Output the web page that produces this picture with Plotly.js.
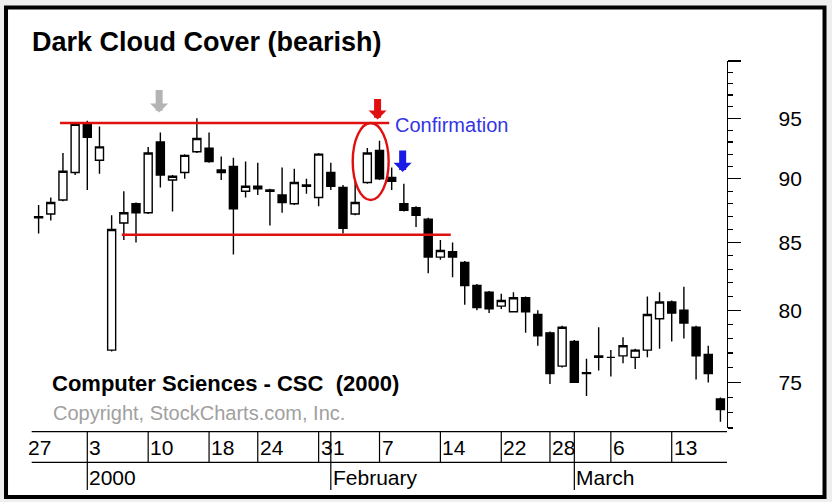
<!DOCTYPE html>
<html><head><meta charset="utf-8">
<script src="https://cdn.plot.ly/plotly-3.0.1.min.js"></script>
<style>html,body{margin:0;padding:0;background:#fff;} #chart{width:832px;height:502px;}</style>
</head><body><div id="chart"></div>
<script>
// Trading days (Dec 28 1999 .. Mar 17 2000)
const dates = ['1999-12-28','1999-12-29','1999-12-30','1999-12-31',
  '2000-01-03','2000-01-04','2000-01-05','2000-01-06','2000-01-07',
  '2000-01-10','2000-01-11','2000-01-12','2000-01-13','2000-01-14',
  '2000-01-18','2000-01-19','2000-01-20','2000-01-21',
  '2000-01-24','2000-01-25','2000-01-26','2000-01-27','2000-01-28',
  '2000-01-31','2000-02-01','2000-02-02','2000-02-03','2000-02-04',
  '2000-02-07','2000-02-08','2000-02-09','2000-02-10','2000-02-11',
  '2000-02-14','2000-02-15','2000-02-16','2000-02-17','2000-02-18',
  '2000-02-22','2000-02-23','2000-02-24','2000-02-25',
  '2000-02-28','2000-02-29','2000-03-01','2000-03-02','2000-03-03',
  '2000-03-06','2000-03-07','2000-03-08','2000-03-09','2000-03-10',
  '2000-03-13','2000-03-14','2000-03-15','2000-03-16','2000-03-17'];
const openP  = [86.9,87.2,88.3,90.5,94.5,91.5,77.2,86.5,88.0,87.3,93.0,89.9,90.5,92.2,92.5,90.5,91.0,89.0,89.4,89.1,88.7,88.0,89.4,88.5,90.5,89.3,87.2,89.7,92.3,90.1,88.0,87.7,86.8,83.9,84.3,83.5,81.8,81.3,80.3,79.9,80.9,79.7,78.4,76.1,77.8,75.65,76.7,76.7,76.8,76.7,77.2,79.4,80.6,80.0,78.8,76.9,73.9];
const highP  = [87.9,88.5,92.1,94.6,94.8,94.3,87.1,89.0,88.1,92.6,93.8,90.3,92.0,95.0,93.8,91.8,91.7,91.4,91.3,89.2,90.9,90.8,90.0,92.1,91.3,89.5,89.9,92.5,93.1,90.9,89.6,87.8,86.9,85.2,85.0,83.6,81.9,81.4,81.2,81.3,81.0,80.0,78.5,78.9,77.9,76.6,78.8,77.2,78.1,77.3,81.0,81.3,80.7,81.7,78.9,77.5,74.0];
const lowP   = [85.7,86.7,88.2,90.3,89.1,90.4,77.1,85.2,85.0,87.2,89.3,87.4,90.0,92.1,91.3,89.9,84.1,88.5,88.7,86.3,87.3,87.9,88.8,87.8,89.1,85.7,87.1,89.6,89.9,89.1,87.4,86.2,82.7,83.7,82.4,80.4,80.0,79.8,80.1,79.9,78.4,77.5,74.9,76.0,75.0,74.1,75.8,75.4,76.3,75.9,76.7,77.3,77.8,78.0,75.2,75.0,72.4];
const closeP = [87.0,88.1,90.6,94.5,93.4,92.6,86.0,87.3,87.3,92.1,90.3,90.2,91.9,93.3,91.4,90.7,87.6,89.4,89.2,89.0,88.1,89.7,89.5,92.0,89.4,86.1,88.1,92.1,90.0,89.8,87.5,87.1,83.9,84.4,83.9,81.8,80.2,80.1,80.7,80.9,79.9,78.2,75.6,78.8,75.0,75.6,76.8,76.7,77.5,77.2,79.7,80.6,79.8,79.1,76.8,75.6,73.2];
const xIdx = dates.map((d, i) => i);

// Date-bar labels (index of trading day in `dates`; -1 = Dec 27, just before the window).
// The Jan 31 label is clipped to "3" by the Feb 1 tick right after it, as in the source chart.
const dayTickIdx = [-1,4,9,14,18,23,24,28,33,38,42,47,52];
const dayTickLabels = ['27','3','10','18','24','3','1','7','14','22','28','6','13'];
const monthTickIdx = [4,24,44];
const monthLabels = ['2000','February','March'];

// Price axis
const yTickVals = [75,80,85,90,95,100];
const yTickText = ['75','80','85','90','95',''];
const yMinorVals = [72,73,74,76,77,78,79,81,82,83,84,86,87,88,89,91,92,93,94,96,97,98,99];

// Pattern annotations (price levels)
const resistanceLevel = 94.6;
const supportLevel = 85.6;

const FONT = 'Liberation Sans, Arial, sans-serif';
const lg = v => Math.log10(v);

const trace = {
  type: 'candlestick', x: xIdx, open: openP, high: highP, low: lowP, close: closeP,
  increasing: {line: {color: '#000', width: 1.4}, fillcolor: '#ffffff'},
  decreasing: {line: {color: '#000', width: 1.4}, fillcolor: '#000000'},
  whiskerwidth: 0, hoverinfo: 'skip', showlegend: false
};

const DAY_TOP = -0.0101, DAY_BOT = -0.0935, MONTH_BOT = -0.169;
const shapes = [
  {type:'rect', xref:'paper', yref:'paper', x0:-0.0285, x1:1.1391, y0:-0.188, y1:1.1458,
   line:{color:'#000', width:4}, fillcolor:'#ffffff', layer:'below'},
  {type:'line', xref:'x', yref:'paper', x0:-0.57, x1:56.54, y0:DAY_TOP, y1:DAY_TOP, line:{color:'#000', width:1.2}},
  {type:'line', xref:'x', yref:'paper', x0:-0.57, x1:56.54, y0:DAY_BOT, y1:DAY_BOT, line:{color:'#000', width:1.2}},
  {type:'line', xref:'x', yref:'y', x0:1.76, x1:28.8, y0:resistanceLevel, y1:resistanceLevel, line:{color:'#e01010', width:2.6}},
  {type:'line', xref:'x', yref:'y', x0:6.83, x1:33.85, y0:supportLevel, y1:supportLevel, line:{color:'#e01010', width:2.6}},
  {type:'circle', xref:'x', yref:'y', x0:25.8, x1:28.75, y0:88.3, y1:94.6, line:{color:'#e01010', width:2.4}}
];
dayTickIdx.forEach(i => {
  if (i < 0) return;
  const isMonth = monthTickIdx.indexOf(i) >= 0;
  shapes.push({type:'line', xref:'x', yref:'paper', x0:i, x1:i, y0:DAY_TOP, y1: isMonth ? MONTH_BOT : DAY_BOT,
    line:{color:'#000', width:1.2}});
});
monthTickIdx.forEach(i => {
  if (dayTickIdx.indexOf(i) < 0)
    shapes.push({type:'line', xref:'x', yref:'paper', x0:i, x1:i, y0:DAY_TOP, y1:MONTH_BOT, line:{color:'#000', width:1.2}});
});

const annotations = [];
dayTickIdx.forEach((i, k) => annotations.push({
  xref:'x', yref:'paper', x:i, y:-0.0518, text:dayTickLabels[k], showarrow:false,
  xanchor:'left', yanchor:'middle', xshift:0, font:{family:FONT, size:21, color:'#000'}
}));
monthTickIdx.forEach((i, k) => annotations.push({
  xref:'x', yref:'paper', x:i, y:-0.136, text:monthLabels[k], showarrow:false,
  xanchor:'left', yanchor:'middle', xshift:0, font:{family:FONT, size:21, color:'#000'}
}));
// arrows
function arrow(x, tipVal, len, color) {
  return {xref:'x', yref:'y', x:x, y:lg(tipVal), ax:0, ay:-len, text:'', showarrow:true,
    arrowhead:1, arrowsize:0.43, arrowwidth:7, arrowcolor:color};
}
annotations.push(arrow(9.9, 95.5, 24, '#b4b4b4'));
annotations.push(arrow(27.84, 94.9, 22, '#e01010'));
annotations.push(arrow(29.9, 90.55, 23, '#1a1ae6'));
annotations.push({xref:'x', yref:'y', x:29.27, y:lg(94.4), text:'Confirmation', showarrow:false,
  xanchor:'left', yanchor:'middle', xshift:-2, font:{family:FONT, size:20, color:'#3434e6'}});
annotations.push({xref:'paper', yref:'paper', x:0.0342, y:0.1226, text:'<b>Computer Sciences - CSC \u00a0(2000)</b>',
  showarrow:false, xanchor:'left', yanchor:'middle', font:{family:FONT, size:22, color:'#000'}});
annotations.push({xref:'paper', yref:'paper', x:0.0357, y:0.0409, text:'Copyright, StockCharts.com, Inc.',
  showarrow:false, xanchor:'left', yanchor:'middle', font:{family:FONT, size:20, color:'#a0a0a0'}});

const layout = {
  width: 832, height: 502,
  margin: {l:26, r:105, t:61, b:74, pad:0},
  paper_bgcolor: '#eeeeee', plot_bgcolor: 'rgba(0,0,0,0)',
  title: {text:'<b>Dark Cloud Cover (bearish)</b>', xref:'container', yref:'container', x:0.0385, xanchor:'left',
    y:0.918, yanchor:'middle', font:{family:FONT, size:27, color:'#000'}},
  showlegend: false, hovermode: false,
  boxgap: 0.34, boxgroupgap: 0,
  xaxis: {range:[-1.035, 56.54], visible:false, showgrid:false, zeroline:false, rangeslider:{visible:false}, fixedrange:true},
  yaxis: {type:'log', range:[lg(72), lg(100)], side:'right', showline:true, linecolor:'#000', linewidth:1.3,
    ticks:'outside', ticklen:13, tickwidth:1.2, tickcolor:'#000', tickmode:'array', tickvals:yTickVals, ticktext:yTickText,
    tickfont:{family:FONT, size:21, color:'#000'}, ticklabelstandoff:33, showgrid:false, zeroline:false, fixedrange:true,
    minor:{tickmode:'array', tickvals:yMinorVals, ticks:'outside', ticklen:5, tickwidth:1.2, tickcolor:'#000', showgrid:false}},
  shapes: shapes, annotations: annotations
};
Plotly.newPlot('chart', [trace], layout, {displayModeBar:false, staticPlot:true});
</script></body></html>
